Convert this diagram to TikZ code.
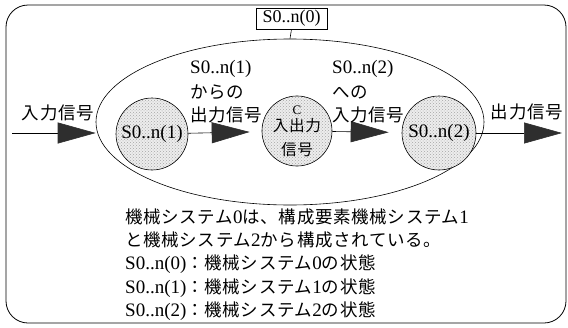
\documentclass[tikz,border=0pt]{standalone}
\usepackage{fontspec}
\setmainfont{Liberation Serif}
\newfontfamily\jp[Scale=0.92,LetterSpace=4]{Noto Sans CJK JP}
\usetikzlibrary{arrows.meta,shapes.geometric,patterns}
\begin{document}
\begin{tikzpicture}[x=1pt,y=-1pt,
  txt/.style={inner sep=0pt,font=\fontsize{19}{21}\selectfont},
  sub/.style={circle,draw,line width=0.6pt,inner sep=0pt,
     preaction={fill=gray!14},pattern=crosshatch dots,pattern color=gray!70,
     font=\fontsize{19}{21}\selectfont},
  conn/.style={line width=0.6pt,-{Triangle[length=38pt,width=21pt,color=black!82]}}]
\useasboundingbox (0,0) rectangle (568,327);
% outer frame
\draw[line width=0.8pt,rounded corners=22pt] (6,5) rectangle (566,323);
% system 0
\node[ellipse,draw,line width=0.6pt,minimum width=388pt,minimum height=166pt,inner sep=0pt] (sys) at (290,122) {};
\node[draw,line width=0.6pt,inner sep=0pt,minimum width=71pt,minimum height=21pt,font=\fontsize{18}{20}\selectfont] (s0) at (291.5,18.5) {S0..n(0)};
\draw[line width=0.6pt] (s0.south) -- (sys.north);
% subsystems
\node[sub,minimum size=72pt] (c1) at (152,134) {S0..n(1)};
\node[sub,minimum size=70pt,align=center,font=\fontsize{17}{17}\selectfont] (cc) at (297,131) {{\fontsize{13}{13}\selectfont C}\\[0pt]{\jp 入出力}\\[7pt]{\jp 信号}};
\node[sub,minimum size=74pt] (c2) at (439,133) {S0..n(2)};
% connectors
\coordinate (src) at (12,133);
\coordinate (dst) at (562,133);
\draw[conn] (src) -- (src -| sys.west);
\draw[conn,shorten >=12pt] (c1) -- (cc);
\draw[conn,shorten >=13pt] (cc) -- (c2);
\draw[conn] (c2) -- (dst);
% labels
\node[txt] (lin) at (58,113) {\jp 入力信号};
\node[txt] (lout) at (527,112) {\jp 出力信号};
\node[txt,anchor=west] (a1) at (190,69) {S0..n(1)};
\node[txt,anchor=west] (a2) at (190,92) {\jp からの};
\node[txt,anchor=west] (a3) at (190,115) {\jp 出力信号};
\node[txt,anchor=west] (b1) at (332,69) {S0..n(2)};
\node[txt,anchor=west] (b2) at (332,92) {\jp への};
\node[txt,anchor=west] (b3) at (332,115) {\jp 入力信号};
% description
\node[txt,anchor=west] (t1) at (125,217) {{\jp 機械システム}0{\jp は、構成要素機械システム}1};
\node[txt,anchor=west] (t2) at (125,240) {{\jp と機械システム}2{\jp から構成されている。}};
\node[txt,anchor=west] (t3) at (125,264) {S0..n(0){\jp ：機械システム}0{\jp の状態}};
\node[txt,anchor=west] (t4) at (125,288) {S0..n(1){\jp ：機械システム}1{\jp の状態}};
\node[txt,anchor=west] (t5) at (125,311) {S0..n(2){\jp ：機械システム}2{\jp の状態}};
\end{tikzpicture}
\end{document}
